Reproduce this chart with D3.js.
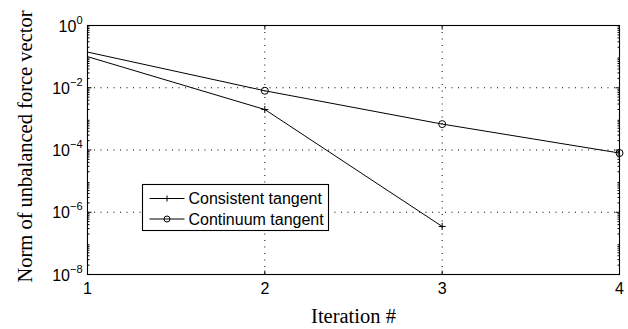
<!DOCTYPE html>
<html>
<head>
<meta charset="utf-8">
<script src="https://cdn.jsdelivr.net/npm/d3@7"></script>
<style>
  html, body { margin: 0; padding: 0; background: #fff; }
  svg { display: block; }
</style>
</head>
<body>
<svg id="chart" width="628" height="329"></svg>
<script>
// Convergence of the Newton iterations: norm of the unbalanced force vector
const iterations = [1, 2, 3, 4];
const consistentIter = [1, 2, 3];
const consistentNorm = [0.1, 2.0e-3, 3.5e-7];
const continuumIter = [1, 2, 3, 4];
const continuumNorm = [0.14, 8.0e-3, 6.8e-4, 8.0e-5];
const yTickExponents = [0, -2, -4, -6, -8];
const gridExponents = [-2, -4, -6];
const seriesNames = ["Consistent tangent", "Continuum tangent"];

const svg = d3.select("#chart");
const margin = { left: 87.5, top: 25.5, right: 8.5, bottom: 54.5 };
const W = 628, H = 329;
const x0 = margin.left, x1 = W - margin.right;
const y0 = margin.top, y1 = H - margin.bottom;

const x = d3.scaleLinear().domain([1, 4]).range([x0, x1]);
const y = d3.scaleLog().domain([1e-8, 1]).range([y1, y0]);

const sansFont = "'Liberation Sans', Arial, Helvetica, sans-serif";
const serifFont = "'Liberation Serif', 'Times New Roman', serif";

// dotted grid
const grid = svg.append("g").attr("stroke", "#000").attr("stroke-width", 1)
  .attr("stroke-dasharray", "1,5.5").attr("fill", "none");
[2, 3].forEach(v => grid.append("line")
  .attr("x1", x(v)).attr("x2", x(v)).attr("y1", y0).attr("y2", y1));
gridExponents.forEach(e => grid.append("line")
  .attr("x1", x0).attr("x2", x1).attr("y1", y(Math.pow(10, e))).attr("y2", y(Math.pow(10, e))));

// tick marks (inward, on all four sides)
const ticks = svg.append("g").attr("stroke", "#000").attr("stroke-width", 1);
iterations.forEach(v => {
  ticks.append("line").attr("x1", x(v)).attr("x2", x(v)).attr("y1", y1).attr("y2", y1 - 4);
  ticks.append("line").attr("x1", x(v)).attr("x2", x(v)).attr("y1", y0).attr("y2", y0 + 4);
});
yTickExponents.forEach(e => {
  const yy = y(Math.pow(10, e));
  ticks.append("line").attr("x1", x0).attr("x2", x0 + 4).attr("y1", yy).attr("y2", yy);
  ticks.append("line").attr("x1", x1).attr("x2", x1 - 4).attr("y1", yy).attr("y2", yy);
});
// log minor ticks
for (let e = -8; e < 0; e++) {
  for (let m = 2; m <= 9; m++) {
    const yy = y(m * Math.pow(10, e));
    ticks.append("line").attr("x1", x0).attr("x2", x0 + 2).attr("y1", yy).attr("y2", yy);
    ticks.append("line").attr("x1", x1).attr("x2", x1 - 2).attr("y1", yy).attr("y2", yy);
  }
}

// axes box
svg.append("rect").attr("x", x0).attr("y", y0).attr("width", x1 - x0).attr("height", y1 - y0)
  .attr("fill", "none").attr("stroke", "#000").attr("stroke-width", 1.1);

// y tick labels: 10^e
yTickExponents.forEach(e => {
  const t = svg.append("text").attr("x", x0 - 5).attr("y", y(Math.pow(10, e)) + 6)
    .attr("text-anchor", "end").attr("font-family", sansFont).attr("font-size", 16).attr("fill", "#000");
  t.append("tspan").text("10");
  t.append("tspan").attr("dy", -8).attr("font-size", 11).text(e === 0 ? "0" : "\u2212" + (-e));
});

// x tick labels
iterations.forEach(v => {
  svg.append("text").attr("x", x(v)).attr("y", y1 + 19)
    .attr("text-anchor", "middle").attr("font-family", sansFont).attr("font-size", 16)
    .attr("fill", "#000").text(v);
});

// axis titles
svg.append("text").attr("x", (x0 + x1) / 2).attr("y", 323)
  .attr("text-anchor", "middle").attr("font-family", serifFont).attr("font-size", 20.5)
  .attr("fill", "#000").text("Iteration #");
svg.append("text").attr("transform", `translate(32,146.5) rotate(-90)`)
  .attr("text-anchor", "middle").attr("font-family", serifFont).attr("font-size", 20.5)
  .attr("fill", "#000").text("Norm of unbalanced force vector");

// series
const line = d3.line().x(d => x(d[0])).y(d => y(d[1]));
const consistent = consistentIter.map((v, i) => [v, consistentNorm[i]]);
const continuum = continuumIter.map((v, i) => [v, continuumNorm[i]]);

svg.append("path").datum(consistent).attr("d", line)
  .attr("fill", "none").attr("stroke", "#000").attr("stroke-width", 1);
svg.append("path").datum(continuum).attr("d", line)
  .attr("fill", "none").attr("stroke", "#000").attr("stroke-width", 1);

const plus = (g, cx, cy, s) => {
  g.append("line").attr("x1", cx - s).attr("x2", cx + s).attr("y1", cy).attr("y2", cy);
  g.append("line").attr("x1", cx).attr("x2", cx).attr("y1", cy - s).attr("y2", cy + s);
};
// markers from the second iteration onward
const mk = svg.append("g").attr("stroke", "#000").attr("stroke-width", 1).attr("fill", "none");
consistent.slice(1).forEach(d => plus(mk, x(d[0]), y(d[1]), 3.5));
continuum.slice(1).forEach(d => mk.append("circle").attr("cx", x(d[0])).attr("cy", y(d[1])).attr("r", 3.5));

// legend
const lg = svg.append("g").attr("transform", "translate(142.5,184.5)");
lg.append("rect").attr("width", 186).attr("height", 46).attr("fill", "#fff")
  .attr("stroke", "#000").attr("stroke-width", 1.1);
seriesNames.forEach((name, i) => {
  const yy = 14 + i * 20.5;
  lg.append("line").attr("x1", 7).attr("x2", 42).attr("y1", yy).attr("y2", yy)
    .attr("stroke", "#000").attr("stroke-width", 1);
  if (i === 0) plus(lg.append("g").attr("stroke", "#000"), 24.5, yy, 3);
  else lg.append("circle").attr("cx", 24.5).attr("cy", yy).attr("r", 3)
    .attr("fill", "none").attr("stroke", "#000");
  lg.append("text").attr("x", 46).attr("y", yy + 5.5).attr("font-family", sansFont)
    .attr("font-size", 16).attr("fill", "#000").text(name);
});
</script>
</body>
</html>
